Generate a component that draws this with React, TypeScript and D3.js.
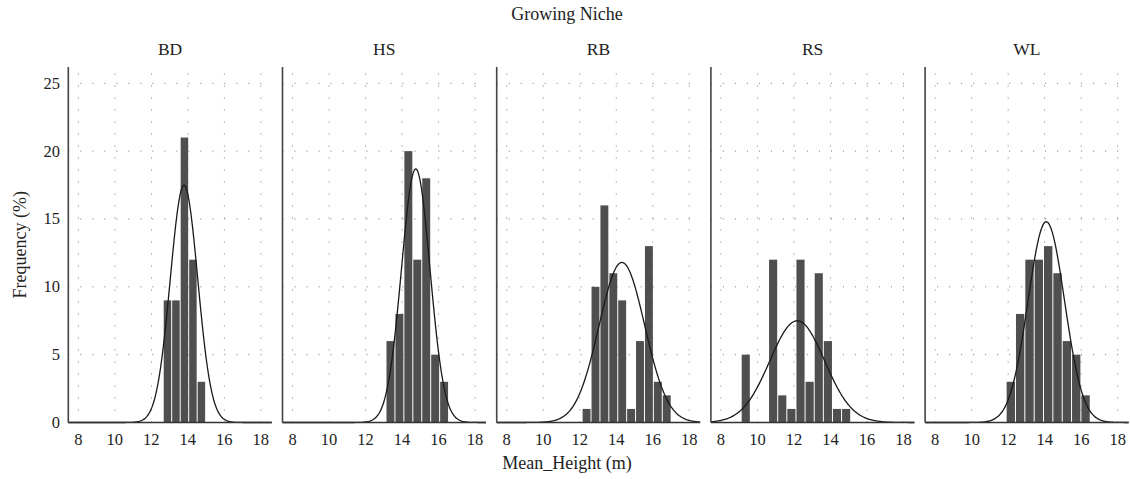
import React from 'react';
import * as d3 from 'd3';

// facets
const niches = ['BD', 'HS', 'RB', 'RS', 'WL'];

// histogram bins per niche (left edge of first bin, bin width, counts in %)
const binStart = [12.65, 13.12, 12.13, 9.11, 11.89];
const binWidth = [0.465, 0.49, 0.488, 0.5, 0.512];
const countsBD = [9, 9, 21, 12, 3];
const countsHS = [6, 8, 20, 12, 18, 5, 3];
const countsRB = [1, 10, 16, 11, 9, 1, 6, 13, 3, 2];
const countsRS = [5, 0, 0, 12, 2, 1, 12, 3, 11, 6, 1, 1];
const countsWL = [3, 8, 12, 12, 13, 11, 6, 5, 2];
const counts = [countsBD, countsHS, countsRB, countsRS, countsWL];

// fitted normal curve per niche
const curveMean = [13.79, 14.75, 14.31, 12.18, 14.09];
const curveSd = [0.75, 0.78, 1.25, 1.5, 1.0];
const curvePeak = [17.5, 18.7, 11.8, 7.5, 14.8];

const xTicks = [8, 10, 12, 14, 16, 18];
const yTicks = [0, 5, 10, 15, 20, 25];

const W = 1130;
const H = 479;
const panelLeft = 68.3;
const panelStep = 214.2;
const panelW = 203.5;
const top = 67;
const bottom = 422.5;
const font = "'Liberation Serif', 'Times New Roman', serif";

const App = () => {
  const x = d3.scaleLinear().domain([7.45, 18.6]).range([0, panelW]);
  const y = d3.scaleLinear().domain([0, 26.2]).range([bottom, top]);

  return (
    <svg width={W} height={H} style={{ position: 'absolute', left: 0, top: 0, background: '#fff' }}>
      <text x={W / 2 + 2} y={20} textAnchor="middle" fontFamily={font} fontSize={18} fill="#222">Growing Niche</text>
      <text x={W / 2 + 2} y={469} textAnchor="middle" fontFamily={font} fontSize={18} fill="#222">Mean_Height (m)</text>
      <text transform={`translate(26,${(top + bottom) / 2}) rotate(-90)`} textAnchor="middle" fontFamily={font} fontSize={18} fill="#222">Frequency (%)</text>

      {yTicks.map(t => (
        <text key={t} x={60} y={y(t)} dy="0.33em" textAnchor="end" fontFamily={font} fontSize={16.5} fill="#222">{t}</text>
      ))}

      {niches.map((n, i) => {
        const ox = panelLeft + i * panelStep;
        const pts = d3.range(7.45, 18.6, 0.05).map(v => [v, curvePeak[i] * Math.exp(-0.5 * ((v - curveMean[i]) / curveSd[i]) ** 2)]);
        const line = d3.line<number[]>().x(d => x(d[0])).y(d => y(d[1])).curve(d3.curveBasis);
        return (
          <g key={n} transform={`translate(${ox},0)`}>
            <text x={panelW / 2} y={55} textAnchor="middle" fontFamily={font} fontSize={17.5} fill="#222">{n}</text>
            {xTicks.map(t => (
              <line key={'v' + t} x1={x(t)} x2={x(t)} y1={bottom} y2={top} stroke="#777" strokeWidth={1} strokeDasharray="1 11" />
            ))}
            {yTicks.filter(t => t > 0).map(t => (
              <line key={'h' + t} x1={0} x2={panelW} y1={y(t)} y2={y(t)} stroke="#777" strokeWidth={1} strokeDasharray="1 11" />
            ))}
            {counts[i].map((c, j) => {
              if (!c) return null;
              const x0 = x(binStart[i] + j * binWidth[i]);
              const x1 = x(binStart[i] + (j + 1) * binWidth[i]);
              return <rect key={j} x={x0 + 0.5} width={x1 - x0 - 1} y={y(c)} height={y(0) - y(c)} fill="#4f4f4f" />;
            })}
            <path d={line(pts) || ''} fill="none" stroke="#1a1a1a" strokeWidth={1.3} />
            <line x1={0} x2={panelW} y1={bottom} y2={bottom} stroke="#333" strokeWidth={1.5} />
            <line x1={0} x2={0} y1={top} y2={bottom} stroke="#444" strokeWidth={1.6} />
            {xTicks.map(t => (
              <text key={'l' + t} x={x(t)} y={445} textAnchor="middle" fontFamily={font} fontSize={16.5} fill="#222">{t}</text>
            ))}
          </g>
        );
      })}
    </svg>
  );
};

export default App;
